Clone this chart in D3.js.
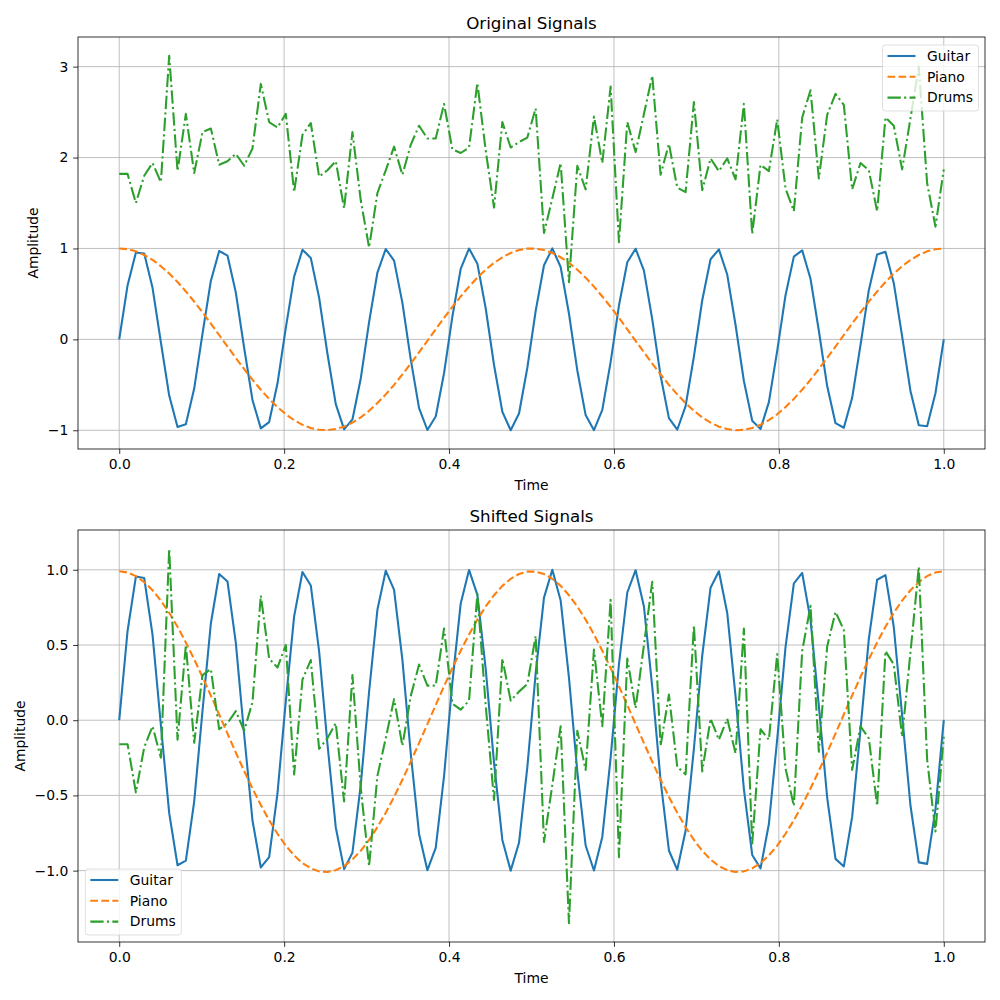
<!DOCTYPE html>
<html><head><meta charset="utf-8">
<script src="https://cdn.jsdelivr.net/npm/d3@7/dist/d3.min.js"></script>
<style>
body{margin:0;background:#fff;}
svg{display:block;font-family:"DejaVu Sans",sans-serif;}
</style></head>
<body><svg id="chart" width="1000" height="1000"></svg>
<script>
// ---- data ----
const seriesNames = ["Guitar", "Piano", "Drums"];
const xTicks = [0.0, 0.2, 0.4, 0.6, 0.8, 1.0];
const topYTicks = [-1, 0, 1, 2, 3];
const bottomYTicks = [-1.0, -0.5, 0.0, 0.5, 1.0];
// 100 samples from t = 0 to 1
const guitar = [0,0.593,0.955,0.945,0.567,-0.032,-0.618,-0.964,-0.934,-0.541,
0.063,0.643,0.972,0.922,0.514,-0.095,-0.667,-0.979,-0.910,-0.486,
0.127,0.690,0.985,0.896,0.458,-0.158,-0.713,-0.990,-0.881,-0.430,
0.189,0.735,0.994,0.866,0.401,-0.220,-0.756,-0.997,-0.849,-0.372,
0.251,0.776,0.999,0.833,0.342,-0.282,-0.796,-1.000,-0.815,-0.312,
0.312,0.815,1.000,0.796,0.282,-0.342,-0.833,-0.999,-0.776,-0.251,
0.372,0.849,0.997,0.756,0.220,-0.401,-0.866,-0.994,-0.735,-0.189,
0.430,0.881,0.990,0.713,0.158,-0.458,-0.896,-0.985,-0.690,-0.127,
0.486,0.910,0.979,0.667,0.095,-0.514,-0.922,-0.972,-0.643,-0.063,
0.541,0.934,0.964,0.618,0.032,-0.567,-0.945,-0.955,-0.593,0];
const piano = [1.000,0.992,0.968,0.928,0.874,0.805,0.724,0.631,0.527,0.415,
0.297,0.174,0.048,-0.079,-0.205,-0.327,-0.444,-0.554,-0.655,-0.745,
-0.824,-0.889,-0.940,-0.975,-0.995,-0.999,-0.987,-0.960,-0.916,-0.858,
-0.786,-0.701,-0.605,-0.500,-0.386,-0.266,-0.142,-0.016,0.111,0.236,
0.357,0.472,0.580,0.679,0.766,0.841,0.903,0.950,0.982,0.998,
0.998,0.982,0.950,0.903,0.841,0.766,0.679,0.580,0.472,0.357,
0.236,0.111,-0.016,-0.142,-0.266,-0.386,-0.500,-0.605,-0.701,-0.786,
-0.858,-0.916,-0.960,-0.987,-0.999,-0.995,-0.975,-0.940,-0.889,-0.824,
-0.745,-0.655,-0.554,-0.444,-0.327,-0.205,-0.079,0.048,0.174,0.297,
0.415,0.527,0.631,0.724,0.805,0.874,0.928,0.968,0.992,1.000];
const drums = [1.82,1.82,1.50,1.80,1.94,1.73,3.12,1.85,2.48,1.83,
2.28,2.32,1.92,1.96,2.04,1.91,2.10,2.81,2.39,2.33,
2.48,1.62,2.25,2.38,1.79,1.86,1.96,1.44,2.28,1.53,
1.01,1.61,1.86,2.12,1.81,2.14,2.35,2.21,2.21,2.59,
2.09,2.05,2.11,2.82,2.08,1.45,2.39,2.11,2.17,2.22,
2.54,1.17,1.55,1.94,0.63,1.91,1.65,2.45,1.94,2.78,
1.07,2.39,2.06,2.48,2.90,1.81,2.15,1.67,1.62,2.61,
1.64,1.99,1.85,1.99,1.76,2.59,1.16,1.92,1.85,2.42,
1.66,1.41,2.44,2.74,1.77,2.47,2.70,2.58,1.65,1.94,
1.86,1.41,2.44,2.35,1.87,2.43,3.00,1.72,1.24,1.87];
// constant offset removed from each series in the "Shifted Signals" panel
const shifts = [0.0, 0.01, 1.98];

const colors = ["#1f77b4", "#ff7f0e", "#2ca02c"];
const dashes = [null, "7.7,3.33", "13.3,3.33,2.08,3.33"];

const n = guitar.length;
const time = d3.range(n).map(i => i / (n - 1));
const original = [guitar, piano, drums];
const shifted = original.map((s, j) => s.map(v => v - shifts[j]));

const svg = d3.select("#chart");
const L = 78, R = 985;

function panel(top, bottom, data, title, yTicks, yFmt, yLabelX, legendBox) {
  const g = svg.append("g");
  const allVals = data.flat();
  const mn = d3.min(allVals), mx = d3.max(allVals), pad = (mx - mn) * 0.05;
  const x = d3.scaleLinear().domain([-0.05, 1.05]).range([L, R]);
  const y = d3.scaleLinear().domain([mn - pad, mx + pad]).range([bottom, top]);

  // grid
  g.append("g").selectAll("line").data(xTicks).join("line")
    .attr("x1", d => x(d)).attr("x2", d => x(d)).attr("y1", top).attr("y2", bottom)
    .attr("stroke", "#b0b0b0").attr("stroke-width", 0.8);
  g.append("g").selectAll("line").data(yTicks).join("line")
    .attr("y1", d => y(d)).attr("y2", d => y(d)).attr("x1", L).attr("x2", R)
    .attr("stroke", "#b0b0b0").attr("stroke-width", 0.8);

  // lines
  const line = d3.line().x((d, i) => x(time[i])).y(d => y(d));
  data.forEach((s, j) => {
    g.append("path").datum(s).attr("d", line)
      .attr("fill", "none").attr("stroke", colors[j]).attr("stroke-width", 2.08)
      .attr("stroke-dasharray", dashes[j]).attr("stroke-linejoin", "round");
  });

  // frame
  g.append("rect").attr("x", L).attr("y", top).attr("width", R - L).attr("height", bottom - top)
    .attr("fill", "none").attr("stroke", "#000").attr("stroke-width", 0.8);

  // axes
  const xa = g.append("g").attr("transform", `translate(0,${bottom})`)
    .call(d3.axisBottom(x).tickValues(xTicks).tickFormat(d3.format(".1f")).tickSize(4.86).tickPadding(4.86));
  const ya = g.append("g").attr("transform", `translate(${L},0)`)
    .call(d3.axisLeft(y).tickValues(yTicks).tickFormat(d3.format(yFmt)).tickSize(4.86).tickPadding(4.86));
  [xa, ya].forEach(a => {
    a.select(".domain").remove();
    a.selectAll("line").attr("stroke", "#000").attr("stroke-width", 0.8);
    a.selectAll("text").attr("font-size", 13.9).attr("fill", "#000").attr("font-family", "DejaVu Sans");
  });

  // labels
  g.append("text").attr("x", (L + R) / 2).attr("y", top - 8.3).attr("text-anchor", "middle")
    .attr("font-size", 16.7).text(title);
  g.append("text").attr("x", (L + R) / 2).attr("y", bottom + 41).attr("text-anchor", "middle")
    .attr("font-size", 13.9).text("Time");
  g.append("text").attr("transform", `translate(${yLabelX},${(top + bottom) / 2}) rotate(-90)`)
    .attr("text-anchor", "middle").attr("font-size", 13.9).text("Amplitude");

  // legend
  const lg = g.append("g").attr("transform", `translate(${legendBox[0]},${legendBox[1]})`);
  lg.append("rect").attr("width", 96).attr("height", 66).attr("rx", 2.8)
    .attr("fill", "#fff").attr("fill-opacity", 0.8).attr("stroke", "#cccccc").attr("stroke-opacity", 0.8).attr("stroke-width", 0.8);
  seriesNames.forEach((name, j) => {
    const yy = 11 + j * 20.8;
    lg.append("line").attr("x1", 5).attr("x2", 33).attr("y1", yy).attr("y2", yy)
      .attr("stroke", colors[j]).attr("stroke-width", 2.08).attr("stroke-dasharray", dashes[j]);
    lg.append("text").attr("x", 44.5).attr("y", yy).attr("dy", "0.35em")
      .attr("font-size", 13.9).text(name);
  });
}

panel(37, 449, original, "Original Signals", topYTicks, "d", 38, [882.5, 45]);
panel(530, 942, shifted, "Shifted Signals", bottomYTicks, ".1f", 25, [85.3, 869]);
</script></body></html>
